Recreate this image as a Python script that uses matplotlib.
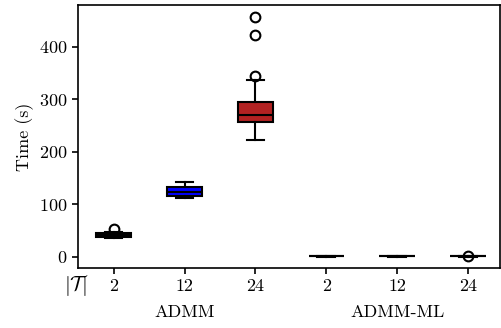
import matplotlib
matplotlib.use("Agg")
import matplotlib.pyplot as plt
import matplotlib.transforms as mtransforms

plt.rcParams['font.family'] = 'serif'
plt.rcParams['font.serif'] = ['cmr10']
plt.rcParams['mathtext.fontset'] = 'cm'
plt.rcParams['axes.formatter.use_mathtext'] = True
plt.rcParams['font.size'] = 13

# box statistics (seconds)
groups = ['ADMM', 'ADMM-ML']
sizes = ['2', '12', '24', '2', '12', '24']
q1 = [38, 116, 257, 1.0, 1.0, 1.0]
med = [42, 124, 270, 1.5, 1.5, 1.5]
q3 = [45, 133, 295, 2.0, 2.0, 2.0]
whislo = [36, 112, 223, 0.5, 0.5, 0.5]
whishi = [47, 143, 337, 2.5, 2.5, 2.5]
fliers = [[53], [], [345, 423, 457], [], [], [1.2]]
box_colors = ['black', 'blue', '#b22222', 'black', 'blue', '#b22222']

stats = []
for i in range(len(sizes)):
    stats.append({'q1': q1[i], 'med': med[i], 'q3': q3[i],
                  'whislo': whislo[i], 'whishi': whishi[i],
                  'fliers': fliers[i], 'label': sizes[i]})

fig = plt.figure(figsize=(5.01, 3.28), dpi=100)
ax = fig.add_axes([0.156, 0.183, 0.842, 0.802])

positions = list(range(1, len(sizes) + 1))
bp = ax.bxp(stats, positions=positions, widths=0.5, patch_artist=True,
            boxprops=dict(edgecolor='black', linewidth=1.5),
            medianprops=dict(color='black', linewidth=1.5),
            whiskerprops=dict(color='black', linewidth=1.5),
            capprops=dict(color='black', linewidth=1.5),
            flierprops=dict(marker='o', markerfacecolor='none',
                            markeredgecolor='black', markersize=7,
                            markeredgewidth=1.5))
for patch, c in zip(bp['boxes'], box_colors):
    patch.set_facecolor(c)

ax.set_xlim(0.5, 6.45)
ax.set_ylim(-21, 480)
ax.set_yticks([0, 100, 200, 300, 400])
ax.set_xticks(positions)
ax.set_xticklabels(sizes)
ax.set_ylabel('Time (s)')
for s in ax.spines.values():
    s.set_linewidth(1.2)
ax.tick_params(width=1.2, length=4)

trans = mtransforms.blended_transform_factory(ax.transData, ax.transAxes)
ax.text(0.66, -0.02, r'$|\mathcal{T}|$', transform=trans, ha='right', va='top', fontsize=15)
ax.text(2, -0.14, groups[0], transform=trans, ha='center', va='top')
ax.text(5, -0.14, groups[1], transform=trans, ha='center', va='top')

fig.savefig('out.png', dpi=100)
